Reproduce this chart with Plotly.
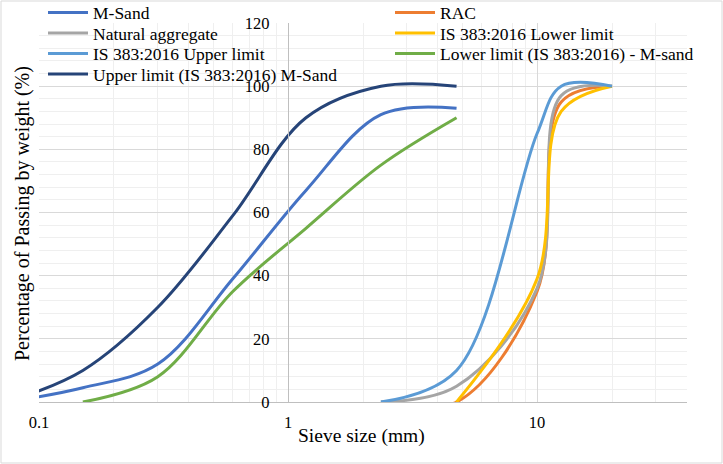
import math
import plotly.graph_objects as go

# ---- data ----
fine_sizes = [0.075, 0.15, 0.3, 0.6, 1.18, 2.36, 4.75]
msand = [0, 4.5, 12, 39, 67, 91, 93]
upper_msand = [0, 10, 30, 59, 90, 100, 100]

lower_msand_sizes = [0.15, 0.3, 0.6, 1.18, 2.36, 4.75]
lower_msand = [0, 8, 35, 55, 75, 90]

coarse_sizes = [2.36, 4.75, 10, 12.5, 20]
rac = [0, 0, 35, 95, 100]
natural = [0, 5, 36, 97, 100]
is_upper = [0, 10, 85, 100, 100]

is_lower_sizes = [4.75, 10, 12.5, 20]
is_lower = [0, 39, 92, 100]

x_tickvals = [0.1, 1, 10]
x_ticktext = ["0.1", "1", "10"]

series = [
    ("M-Sand", fine_sizes, msand, "#4472C4"),
    ("RAC", coarse_sizes, rac, "#ED7D31"),
    ("Natural aggregate", coarse_sizes, natural, "#A5A5A5"),
    ("IS 383:2016 Lower limit", is_lower_sizes, is_lower, "#FFC000"),
    ("IS 383:2016 Upper limit", coarse_sizes, is_upper, "#5B9BD5"),
    ("Lower limit (IS 383:2016) - M-sand", lower_msand_sizes, lower_msand, "#70AD47"),
    ("Upper limit (IS 383:2016) M-Sand", fine_sizes, upper_msand, "#264478"),
]

FONT = "Liberation Serif"
W, H = 723, 464
ML, MR, MT, MB = 39, 36, 23, 62
PW, PH = W - ML - MR, H - MT - MB


def px_to_paper_x(px):
    return (px - ML) / PW


def px_to_paper_y(py):
    return (H - MB - py) / PH


# legend slots: two columns, Excel style (left col x, right col x; row centres)
legend_cols = [43, 390]
legend_rows = [12.5, 33, 53.5, 74]

fig = go.Figure()
layout_legends = {}
for i, (name, xs, ys, color) in enumerate(series):
    key = "legend" if i == 0 else f"legend{i + 1}"
    fig.add_trace(go.Scatter(
        x=xs, y=ys, name=name, mode="lines",
        line=dict(color=color, width=3, shape="spline", smoothing=1),
        legend=key,
    ))
    col = i % 2
    row = i // 2
    layout_legends[key] = dict(
        x=px_to_paper_x(legend_cols[col]), y=px_to_paper_y(legend_rows[row]),
        xanchor="left", yanchor="middle",
        font=dict(family=FONT, size=17.5, color="black"),
        bgcolor="rgba(0,0,0,0)", borderwidth=0, itemwidth=40,
    )

xmin, xmax = 0.1, 40
ypos = (0 - math.log10(xmin)) / (math.log10(xmax) - math.log10(xmin))

minor_x = [v * m for m in (0.1, 1, 10) for v in range(2, 10) if v * m <= xmax]

fig.update_layout(
    width=W, height=H,
    margin=dict(l=ML, r=MR, t=MT, b=MB, autoexpand=False),
    paper_bgcolor="white", plot_bgcolor="white",
    font=dict(family=FONT, size=16.5, color="black"),
    showlegend=True,
    xaxis=dict(
        type="log", range=[math.log10(xmin), math.log10(xmax)],
        tickvals=x_tickvals, ticktext=x_ticktext,
        showgrid=True, gridcolor="#D9D9D9", gridwidth=1,
        minor=dict(tickvals=minor_x, showgrid=True, gridcolor="#EFEFEF", gridwidth=1, ticks=""),
        showline=True, linecolor="#BFBFBF", linewidth=1.3,
        ticks="", ticklabelstandoff=5,
        zeroline=False,
    ),
    yaxis=dict(
        range=[0, 120], dtick=20,
        showgrid=True, gridcolor="#D9D9D9", gridwidth=1,
        minor=dict(dtick=4, showgrid=True, gridcolor="#EFEFEF", gridwidth=1, ticks=""),
        showline=True, linecolor="#BFBFBF", linewidth=1.3,
        anchor="free", position=ypos,
        ticks="", ticklabelstandoff=15,
        zeroline=False,
    ),
    annotations=[
        dict(text="Sieve size (mm)", xref="paper", yref="paper",
             x=px_to_paper_x(361), y=px_to_paper_y(436), showarrow=False,
             xanchor="center", yanchor="middle", font=dict(family=FONT, size=19.5)),
        dict(text="Percentage of Passing by weight (%)", xref="paper", yref="paper",
             x=px_to_paper_x(22), y=px_to_paper_y(214), showarrow=False, textangle=-90,
             xanchor="center", yanchor="middle", font=dict(family=FONT, size=20)),
    ],
    shapes=[
        dict(type="rect", xref="paper", yref="paper",
             x0=px_to_paper_x(1), x1=px_to_paper_x(W - 1),
             y0=px_to_paper_y(H - 1), y1=px_to_paper_y(1),
             line=dict(color="#D9D9D9", width=1), fillcolor="rgba(0,0,0,0)", layer="below"),
    ],
    **layout_legends,
)

fig.write_html(
    "out.html",
    config={"displayModeBar": False},
    post_script="document.body.style.margin='0';document.body.style.padding='0';",
)
